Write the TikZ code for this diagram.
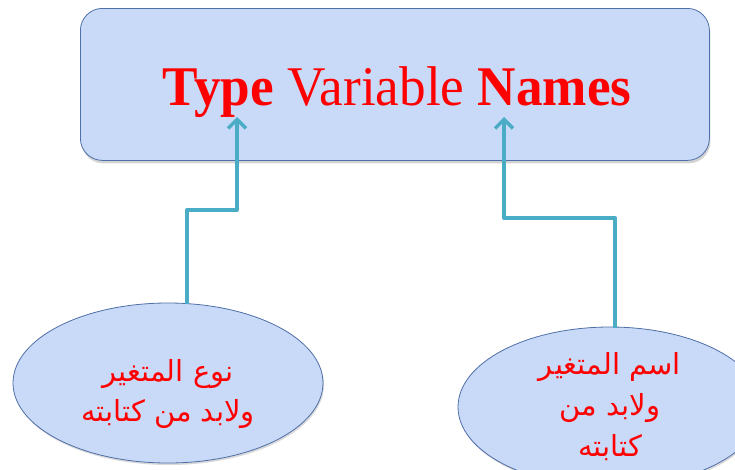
\documentclass[tikz,border=0pt]{standalone}
\usepackage{fontspec}
\setmainfont{Liberation Serif}
\newfontfamily\arabicfont[Script=Arabic]{DejaVu Sans}
\TeXXeTstate=1
\usetikzlibrary{shapes.geometric,shadows,arrows.meta}
\definecolor{boxfill}{HTML}{C9DAF8}
\definecolor{boxline}{HTML}{4F6FA8}
\definecolor{conncol}{HTML}{4BACC6}
\tikzset{
  panel/.style={draw=boxline, line width=0.8pt, fill=boxfill, rounded corners=22pt,
    drop shadow={shadow xshift=1pt, shadow yshift=-3pt, opacity=0.35}},
  bubble/.style={ellipse, draw=boxline, line width=0.8pt, fill=boxfill, text=red,
    align=center, inner sep=0pt, font=\arabicfont\fontsize{29}{40}\selectfont,
    drop shadow={shadow xshift=1pt, shadow yshift=-2pt, opacity=0.3}},
  conn/.style={draw=conncol, line width=4pt, line join=round,
    -{Straight Barb[length=9pt, width=18pt, line width=3.5pt]}}
}
\begin{document}
\begin{tikzpicture}[x=1pt, y=-1pt]
\useasboundingbox (0,0) rectangle (735,469);
\node[panel, minimum width=629pt, minimum height=152pt, anchor=north west] (box) at (80,8) {};
\node[text=red, font=\fontsize{56}{60}\selectfont, anchor=base, inner sep=0pt] (title) at (397,105)
  {\scalebox{0.95}[1]{\textbf{Type} Variable \textbf{Names}}};
\node[bubble, minimum width=310pt, minimum height=160pt, text depth=0pt] (e1) at (168,383)
  {\raisebox{-14pt}{\beginR نوع المتغير\endR}\\ \raisebox{-14pt}{\beginR ولابد من كتابته\endR}};
\node[bubble, minimum width=304pt, minimum height=160pt, font=\arabicfont\fontsize{29}{41}\selectfont] (e2) at (610,407)
  {\beginR اسم المتغير\endR\\ \beginR ولابد من\endR\\ \beginR كتابته\endR};
\coordinate (a1) at (187,304);
\coordinate (t1) at (237,117);
\coordinate (a2) at (615,328);
\coordinate (t2) at (504,117);
\draw[conn] (a1) |- (237,210) -- (t1);
\draw[conn] (a2) |- (504,218) -- (t2);
\end{tikzpicture}
\end{document}
